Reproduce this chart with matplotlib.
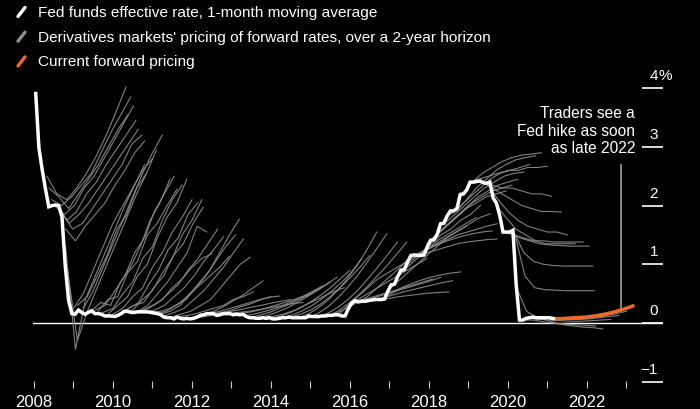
#!/usr/bin/env python3

"""Fed funds rate vs. forward pricing, Bloomberg-style dark chart"""

import numpy as np
import matplotlib
matplotlib.use("Agg")
import matplotlib.pyplot as plt
from matplotlib.lines import Line2D

# -------------------------------------------------------------------------
# Data
# -------------------------------------------------------------------------
# Fed funds effective rate, 1-month moving average, monthly from Jan 2008
fed_first_year = 2008
fed_funds = [
    3.94, 2.98, 2.61, 2.28, 1.98, 2.00, 2.01, 2.00, 1.81, 0.97, 0.39, 0.16,  # 2008
    0.15, 0.22, 0.18, 0.15, 0.18, 0.21, 0.16, 0.16, 0.15, 0.12, 0.12, 0.12,  # 2009
    0.11, 0.13, 0.16, 0.20, 0.20, 0.18, 0.18, 0.19, 0.19, 0.19, 0.19, 0.18,  # 2010
    0.17, 0.16, 0.14, 0.10, 0.09, 0.09, 0.07, 0.10, 0.08, 0.07, 0.08, 0.07,  # 2011
    0.08, 0.10, 0.13, 0.14, 0.16, 0.16, 0.16, 0.13, 0.14, 0.16, 0.16, 0.16,  # 2012
    0.14, 0.15, 0.14, 0.15, 0.11, 0.09, 0.09, 0.08, 0.08, 0.09, 0.08, 0.09,  # 2013
    0.07, 0.07, 0.08, 0.09, 0.09, 0.10, 0.09, 0.09, 0.09, 0.09, 0.09, 0.12,  # 2014
    0.11, 0.11, 0.11, 0.12, 0.12, 0.13, 0.13, 0.14, 0.14, 0.12, 0.12, 0.24,  # 2015
    0.34, 0.38, 0.36, 0.37, 0.37, 0.38, 0.39, 0.40, 0.40, 0.40, 0.41, 0.54,  # 2016
    0.65, 0.66, 0.79, 0.90, 0.91, 1.04, 1.15, 1.16, 1.15, 1.15, 1.16, 1.30,  # 2017
    1.41, 1.42, 1.51, 1.69, 1.70, 1.82, 1.91, 1.91, 1.95, 2.19, 2.20, 2.27,  # 2018
    2.40, 2.40, 2.41, 2.42, 2.39, 2.38, 2.40, 2.13, 2.04, 1.83, 1.55, 1.55,  # 2019
    1.55, 1.58, 0.65, 0.05, 0.05, 0.08, 0.09, 0.10, 0.09, 0.09, 0.09, 0.09,  # 2020
    0.09, 0.08, 0.07,                                                        # 2021
]

# Forward curves: quarterly points over a 2-year horizon
fwd_horizon = [0, 0.25, 0.5, 0.75, 1.0, 1.25, 1.5, 1.75, 2.0]
fwd_start = [
    2008.33, 2008.38, 2008.45, 2008.52, 2008.58, 2008.64, 2008.73, 2008.80,
    2008.80, 2008.85, 2009.00, 2009.10, 2009.25,
    2009.44, 2009.55, 2009.62, 2009.75, 2009.87, 2010.00, 2010.15, 2010.25,
    2010.28, 2010.38, 2010.50, 2010.65, 2010.80, 2010.95, 2011.10, 2011.20,
    2011.30, 2011.47, 2011.55, 2011.80, 2012.00, 2012.22,
    2012.50, 2012.80, 2013.00, 2013.30, 2013.50, 2013.67, 2013.85, 2014.00,
    2014.30, 2014.50, 2014.68, 2014.93, 2015.20, 2015.44, 2015.44, 2015.70,
    2015.95, 2016.10, 2016.30, 2016.50, 2016.60, 2016.80, 2016.95, 2017.20,
    2017.30, 2017.55, 2017.60, 2017.72, 2017.72, 2017.95, 2018.10, 2018.25,
    2018.40, 2018.55, 2018.70, 2018.85,
    2019.00, 2019.10, 2019.35, 2019.50, 2019.70, 2019.90, 2020.05, 2020.15,
    2020.18, 2020.22, 2020.40, 2020.60, 2020.80, 2021.00,
]
fwd_paths = [
    # 2008, rate near 2%
    [2.50, 2.20, 2.10, 2.30, 2.55, 2.85, 3.20, 3.60, 4.02],
    [2.30, 2.15, 1.95, 2.20, 2.45, 2.70, 3.00, 3.30, 3.55],
    [2.10, 2.00, 2.15, 2.35, 2.55, 2.90, 3.25, 3.55, 3.85],
    [2.00, 1.85, 2.00, 2.30, 2.50, 2.80, 3.10, 3.40, 3.70],
    [2.00, 1.75, 1.90, 2.20, 2.40, 2.70, 2.95, 3.20, 3.45],
    [1.95, 1.70, 1.85, 2.05, 2.30, 2.55, 2.80, 3.05, 3.30],
    [1.85, 1.60, 1.70, 1.95, 2.20, 2.45, 2.70, 3.05, 3.20],
    [1.60, 1.40, 1.65, 1.85, 2.05, 2.35, 2.60, 2.90, 3.10],
    # late 2008 crash
    [1.30, -0.45, 0.40, 0.80, 1.20, 1.60, 2.00, 2.35, 2.70],
    [0.90, -0.30, 0.20, 0.60, 1.00, 1.40, 1.80, 2.20, 2.55],
    [0.25, 0.50, 0.90, 1.30, 1.70, 2.00, 2.30, 2.60, 2.80],
    [0.30, 0.45, 0.80, 1.15, 1.60, 1.85, 2.30, 2.55, 2.95],
    [0.25, 0.55, 0.95, 1.35, 1.75, 2.15, 2.55, 2.90, 3.20],
    # 2009-2011, rate near zero, markets expecting hikes
    [0.20, 0.35, 0.30, 0.70, 0.95, 1.30, 1.75, 2.05, 2.45],
    [0.22, 0.30, 0.55, 0.80, 1.20, 1.45, 1.90, 2.20, 2.50],
    [0.20, 0.40, 0.45, 0.85, 1.05, 1.50, 1.70, 2.00, 2.28],
    [0.18, 0.25, 0.50, 0.70, 1.10, 1.30, 1.75, 2.10, 2.35],
    [0.15, 0.30, 0.45, 0.80, 1.00, 1.45, 1.80, 2.05, 2.45],
    [0.15, 0.25, 0.45, 0.60, 0.95, 1.20, 1.55, 1.80, 2.10],
    [0.16, 0.25, 0.35, 0.65, 0.90, 1.25, 1.45, 1.85, 2.05],
    [0.20, 0.22, 0.40, 0.55, 0.85, 1.10, 1.50, 1.75, 2.10],
    [0.20, 0.30, 0.35, 0.60, 0.80, 1.15, 1.35, 1.70, 1.97],
    [0.20, 0.20, 0.30, 0.50, 0.70, 0.95, 1.20, 1.65, 1.55],
    [0.19, 0.22, 0.30, 0.40, 0.60, 0.75, 0.95, 1.10, 1.18],
    [0.19, 0.25, 0.35, 0.50, 0.65, 0.90, 1.10, 1.35, 1.60],
    [0.19, 0.22, 0.30, 0.45, 0.60, 0.80, 1.05, 1.25, 1.47],
    [0.18, 0.20, 0.25, 0.35, 0.50, 0.65, 0.80, 0.95, 1.14],
    [0.16, 0.20, 0.30, 0.40, 0.60, 0.80, 1.05, 1.30, 1.50],
    [0.15, 0.20, 0.30, 0.50, 0.70, 0.90, 1.20, 1.50, 1.77],
    [0.12, 0.18, 0.25, 0.40, 0.55, 0.75, 0.95, 1.20, 1.43],
    [0.10, 0.15, 0.20, 0.30, 0.40, 0.60, 0.80, 1.00, 1.12],
    [0.10, 0.12, 0.15, 0.20, 0.25, 0.30, 0.40, 0.45, 0.53],
    [0.08, 0.10, 0.15, 0.20, 0.28, 0.38, 0.48, 0.60, 0.72],
    [0.08, 0.10, 0.13, 0.17, 0.22, 0.28, 0.33, 0.40, 0.45],
    [0.15, 0.17, 0.20, 0.25, 0.30, 0.35, 0.40, 0.44, 0.46],
    # 2012-2015, rate at zero
    [0.16, 0.18, 0.20, 0.23, 0.27, 0.30, 0.34, 0.37, 0.40],
    [0.16, 0.17, 0.19, 0.21, 0.24, 0.27, 0.30, 0.33, 0.35],
    [0.14, 0.16, 0.19, 0.23, 0.28, 0.33, 0.38, 0.44, 0.50],
    [0.12, 0.15, 0.19, 0.24, 0.30, 0.37, 0.45, 0.54, 0.63],
    [0.10, 0.14, 0.19, 0.26, 0.33, 0.41, 0.50, 0.60, 0.70],
    [0.09, 0.13, 0.19, 0.26, 0.35, 0.45, 0.55, 0.66, 0.78],
    [0.09, 0.12, 0.16, 0.22, 0.30, 0.38, 0.46, 0.54, 0.60],
    [0.07, 0.12, 0.18, 0.26, 0.36, 0.47, 0.60, 0.75, 0.90],
    [0.09, 0.14, 0.21, 0.30, 0.42, 0.55, 0.70, 0.88, 1.10],
    [0.10, 0.15, 0.22, 0.32, 0.45, 0.60, 0.77, 0.95, 1.15],
    [0.09, 0.15, 0.25, 0.38, 0.55, 0.75, 0.98, 1.25, 1.55],
    [0.09, 0.16, 0.27, 0.42, 0.60, 0.80, 1.03, 1.27, 1.52],
    [0.11, 0.17, 0.27, 0.40, 0.56, 0.75, 0.95, 1.16, 1.38],
    [0.12, 0.20, 0.32, 0.46, 0.62, 0.80, 0.98, 1.18, 1.38],
    [0.12, 0.18, 0.26, 0.35, 0.45, 0.60, 0.75, 0.90, 1.06],
    [0.13, 0.30, 0.45, 0.60, 0.75, 0.85, 0.95, 1.05, 1.15],
    # 2016-2018, hiking cycle
    [0.24, 0.40, 0.50, 0.60, 0.70, 0.80, 0.90, 1.00, 1.10],
    [0.37, 0.40, 0.45, 0.50, 0.55, 0.60, 0.65, 0.70, 0.75],
    [0.37, 0.42, 0.47, 0.52, 0.57, 0.62, 0.67, 0.72, 0.78],
    [0.39, 0.40, 0.42, 0.45, 0.47, 0.49, 0.51, 0.52, 0.53],
    [0.40, 0.43, 0.48, 0.53, 0.57, 0.61, 0.65, 0.69, 0.72],
    [0.41, 0.50, 0.60, 0.67, 0.73, 0.78, 0.82, 0.85, 0.87],
    [0.54, 0.70, 0.85, 1.00, 1.15, 1.30, 1.45, 1.55, 1.65],
    [0.80, 0.95, 1.10, 1.25, 1.40, 1.50, 1.60, 1.70, 1.80],
    [0.90, 1.05, 1.20, 1.35, 1.50, 1.60, 1.75, 1.85, 2.00],
    [1.15, 1.20, 1.30, 1.40, 1.50, 1.60, 1.70, 1.80, 1.86],
    [1.15, 1.22, 1.30, 1.37, 1.43, 1.48, 1.52, 1.55, 1.57],
    [1.15, 1.20, 1.25, 1.30, 1.35, 1.38, 1.40, 1.42, 1.43],
    [1.15, 1.25, 1.35, 1.42, 1.50, 1.55, 1.60, 1.65, 1.69],
    [1.35, 1.50, 1.65, 1.80, 1.95, 2.05, 2.15, 2.20, 2.25],
    [1.45, 1.60, 1.75, 1.90, 2.05, 2.15, 2.25, 2.30, 2.35],
    [1.55, 1.70, 1.85, 2.00, 2.15, 2.25, 2.35, 2.40, 2.45],
    [1.70, 1.85, 2.00, 2.15, 2.30, 2.40, 2.50, 2.55, 2.57],
    [1.85, 2.00, 2.15, 2.30, 2.45, 2.55, 2.60, 2.65, 2.70],
    [1.91, 2.10, 2.30, 2.45, 2.60, 2.70, 2.78, 2.82, 2.85],
    [2.20, 2.40, 2.55, 2.65, 2.75, 2.82, 2.86, 2.88, 2.90],
    # 2019-2021, cuts and the pandemic
    [2.40, 2.45, 2.50, 2.55, 2.60, 2.60, 2.65, 2.65, 2.67],
    [2.40, 2.40, 2.35, 2.30, 2.30, 2.25, 2.20, 2.20, 2.16],
    [2.40, 2.30, 2.20, 2.10, 2.00, 1.95, 1.90, 1.90, 1.89],
    [2.35, 2.10, 1.90, 1.75, 1.65, 1.60, 1.55, 1.55, 1.50],
    [2.00, 1.80, 1.60, 1.50, 1.40, 1.35, 1.35, 1.35, 1.35],
    [1.55, 1.50, 1.45, 1.40, 1.40, 1.38, 1.38, 1.38, 1.38],
    [1.55, 1.45, 1.40, 1.35, 1.33, 1.32, 1.31, 1.31, 1.31],
    [1.55, 1.20, 1.05, 1.00, 0.98, 0.97, 0.97, 0.97, 0.97],
    [1.50, 0.80, 0.60, 0.57, 0.56, 0.55, 0.55, 0.55, 0.55],
    [0.60, 0.20, 0.10, 0.05, 0.00, -0.02, -0.03, -0.04, -0.05],
    [0.05, 0.05, 0.02, 0.00, -0.03, -0.05, -0.07, -0.08, -0.10],
    [0.08, 0.06, 0.05, 0.04, 0.03, 0.03, 0.04, 0.05, 0.06],
    [0.09, 0.08, 0.07, 0.06, 0.06, 0.07, 0.09, 0.11, 0.13],
    [0.09, 0.08, 0.07, 0.07, 0.08, 0.10, 0.13, 0.16, 0.20],
]

# Current forward pricing
current_start = 2021.2
current_path = [0.07, 0.08, 0.09, 0.10, 0.12, 0.15, 0.19, 0.24, 0.30]

# Axis labels
x_ticks = list(range(2008, 2024))
x_labels = [str(y) if y % 2 == 0 else "" for y in x_ticks]
y_ticks = [4, 3, 2, 1, 0, -1]
y_labels = ["4", "3", "2", "1", "0", "\u22121"]

legend_labels = [
    "Fed funds effective rate, 1-month moving average",
    "Derivatives markets' pricing of forward rates, over a 2-year horizon",
    "Current forward pricing",
]
note_text = "Traders see a\nFed hike as soon\nas late 2022"
note_year = 2022.86

# -------------------------------------------------------------------------
# Style
# -------------------------------------------------------------------------
BG = "black"
WHITE = "white"
GREY = "#8e8e8e"
ORANGE = "#f0692b"
plt.rcParams["font.family"] = ["Liberation Sans", "DejaVu Sans"]

fig = plt.figure(figsize=(7.0, 4.1), dpi=100, facecolor=BG)
ax = fig.add_axes([32.8 / 700, 1 - 389 / 410, 630 / 700, (389 - 71.6) / 410])
ax.set_facecolor(BG)
ax.set_xlim(2007.97, 2023.92)
ax.set_ylim(-1.107, 4.30)
for s in ax.spines.values():
    s.set_visible(False)

# zero line
ax.axhline(0, color=WHITE, lw=1.0, zorder=2)

# forward curves
horizon = np.array(fwd_horizon)
for t0, path in zip(fwd_start, fwd_paths):
    ax.plot(t0 + horizon, path, color=GREY, lw=0.8, alpha=0.9,
            solid_joinstyle="round", zorder=3)

# fed funds
fed_x = fed_first_year + (np.arange(len(fed_funds)) + 0.5) / 12
ax.plot(fed_x, fed_funds, color=WHITE, lw=2.5, solid_joinstyle="miter",
        solid_capstyle="butt", zorder=5)

# current pricing
ax.plot(current_start + horizon, current_path, color=ORANGE, lw=2.5,
        solid_capstyle="butt", zorder=6)

# annotation
ax.plot([note_year, note_year], [0.20, 2.69], color="#9c9c9c", lw=1.2, zorder=4)
ax.text(2023.22, 3.71, note_text, color=WHITE, fontsize=11.2, ha="right",
        va="top", linespacing=1.2)

# x axis
ax.set_xticks(x_ticks)
ax.set_xticklabels(x_labels)
ax.tick_params(axis="x", direction="in", length=5, width=0.8, color="#cccccc",
               labelcolor=WHITE, labelsize=12, pad=4.5)
ax.set_yticks([])

# right-hand y labels, sitting above short dashes
x_lab = 2023.80
ax.hlines(y_ticks, 2023.39, 2023.92, color=WHITE, lw=1.2, zorder=4)
for v, lab in zip(y_ticks, y_labels):
    ax.annotate(lab, (x_lab, v), xytext=(0, 6.5), textcoords="offset points",
                ha="right", va="baseline", color=WHITE, fontsize=11)
ax.annotate("%", (x_lab, y_ticks[0]), xytext=(0, 6.5), textcoords="offset points",
            ha="left", va="baseline", color=WHITE, fontsize=11)

# legend, drawn by hand
legend_colors = [WHITE, GREY, ORANGE]
for i, (lab, col) in enumerate(zip(legend_labels, legend_colors)):
    yc = 13 + i * 24.7
    fig.add_artist(Line2D([18 / 700, 25 / 700],
                          [1 - (yc + 4.5) / 410, 1 - (yc - 4.5) / 410],
                          color=col, lw=2.4, solid_capstyle="round"))
    fig.text(38 / 700, 1 - yc / 410, lab, color=WHITE, fontsize=11.1,
             va="center", ha="left")

fig.savefig("out.png", dpi=100, facecolor=BG)
